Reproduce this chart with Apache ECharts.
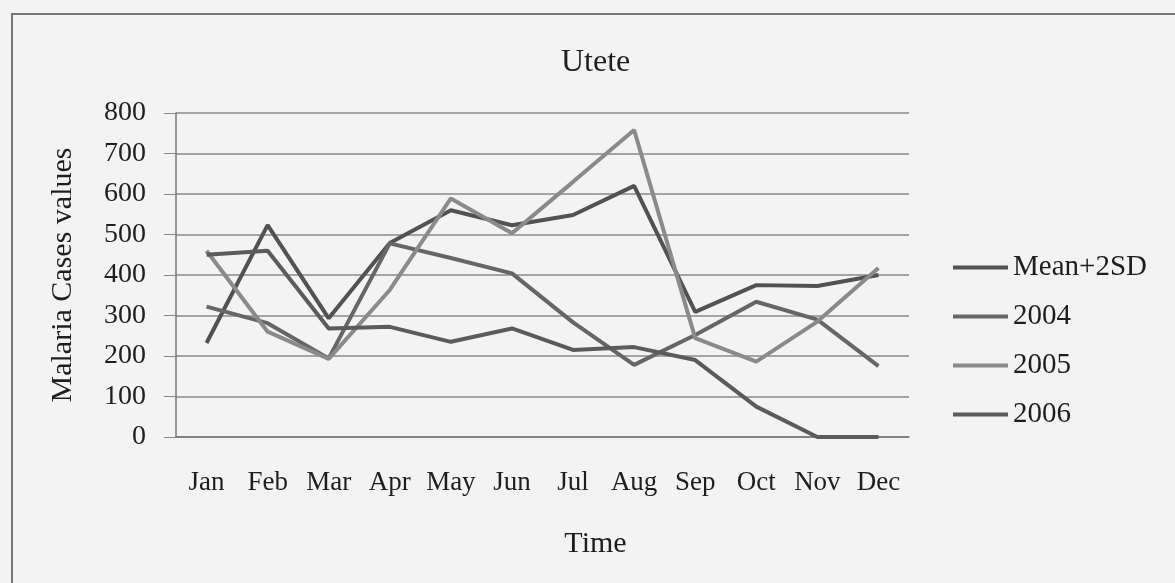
<!DOCTYPE html>
<html>
<head>
<meta charset="utf-8">
<script src="https://cdn.jsdelivr.net/npm/echarts@6/dist/echarts.min.js"></script>
<style>
  html, body { margin: 0; padding: 0; background: #f3f3f3; }
  #chart { width: 1175px; height: 583px; }
</style>
</head>
<body>
<div id="chart"></div>
<script>
var chartDom = document.getElementById('chart');
var myChart = echarts.init(chartDom);
var option;

// data
let months = ['Jan', 'Feb', 'Mar', 'Apr', 'May', 'Jun', 'Jul', 'Aug', 'Sep', 'Oct', 'Nov', 'Dec'];
let meanPlus2SD = [232, 523, 293, 479, 560, 523, 548, 620, 309, 375, 373, 400];
let y2004 = [322, 281, 194, 478, 442, 404, 283, 178, 252, 334, 290, 175];
let y2005 = [460, 260, 193, 363, 589, 503, 630, 758, 244, 186, 285, 417];
let y2006 = [450, 460, 268, 272, 235, 268, 215, 222, 190, 75, 0, 0];
let seriesNames = ['Mean+2SD', '2004', '2005', '2006'];
let seriesColors = ['#525252', '#666666', '#8a8a8a', '#5b5b5b'];

let serif = 'Liberation Serif';

function lineSeries(name, values, color) {
  return {
    name: name,
    type: 'line',
    data: values,
    symbol: 'none',
    lineStyle: { color: color, width: 4 },
    itemStyle: { color: color }
  };
}

option = {
  backgroundColor: '#f3f3f3',
  animation: false,
  title: {
    text: 'Utete',
    left: 556,
    top: 42,
    textStyle: { fontFamily: serif, fontSize: 32, fontWeight: 'normal', color: '#1e1e1e' }
  },
  graphic: [
    {
      type: 'rect',
      shape: { x: 12, y: 14, width: 1200, height: 600 },
      style: { fill: 'none', stroke: '#777', lineWidth: 2 }
    }
  ],
  grid: {
    left: 176,
    right: 266,
    top: 113,
    bottom: 146
  },
  legend: {
    orient: 'vertical',
    left: 948,
    top: 248,
    icon: 'rect',
    itemWidth: 55,
    itemHeight: 4,
    itemGap: 20,
    data: seriesNames,
    textStyle: { fontFamily: serif, fontSize: 29, color: '#1e1e1e' }
  },
  xAxis: {
    type: 'category',
    data: months,
    boundaryGap: true,
    name: 'Time',
    nameLocation: 'middle',
    nameGap: 92,
    nameTextStyle: { fontFamily: serif, fontSize: 30, color: '#1e1e1e', padding: [0, 0, 0, 106] },
    axisLine: { lineStyle: { color: '#777', width: 1.5 } },
    axisTick: { length: 8, lineStyle: { color: '#777' } },
    axisLabel: { interval: 0, fontFamily: serif, fontSize: 27, color: '#1e1e1e', margin: 32 }
  },
  yAxis: {
    type: 'value',
    min: 0,
    max: 800,
    interval: 100,
    name: 'Malaria Cases values',
    nameLocation: 'middle',
    nameGap: 98,
    nameTextStyle: { fontFamily: serif, fontSize: 30, color: '#1e1e1e' },
    axisLine: { show: true, lineStyle: { color: '#777', width: 1.5 } },
    axisTick: { show: true, length: 12, lineStyle: { color: '#888' } },
    axisLabel: { fontFamily: serif, fontSize: 28, color: '#1e1e1e', margin: 30 },
    splitLine: { lineStyle: { color: '#8a8a8a', width: 1.5 } }
  },
  series: [
    lineSeries(seriesNames[0], meanPlus2SD, seriesColors[0]),
    lineSeries(seriesNames[1], y2004, seriesColors[1]),
    lineSeries(seriesNames[2], y2005, seriesColors[2]),
    lineSeries(seriesNames[3], y2006, seriesColors[3])
  ]
};

option && myChart.setOption(option);
</script>
</body>
</html>
